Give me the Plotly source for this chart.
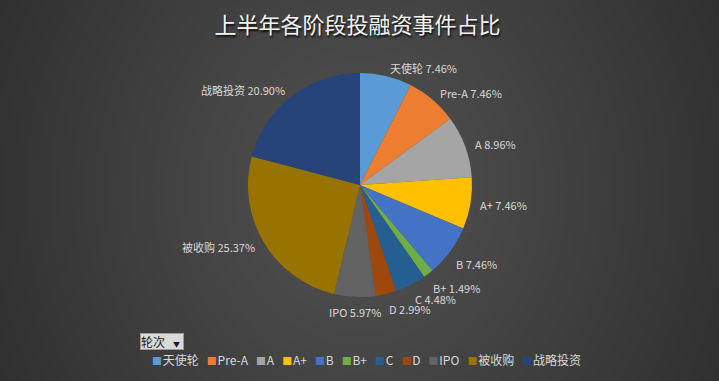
import math
import plotly.graph_objects as go

labels = ["天使轮", "Pre-A", "A", "A+", "B", "B+", "C", "D", "IPO", "被收购", "战略投资"]
counts = [5, 5, 6, 5, 5, 1, 3, 2, 4, 17, 14]
colors = ["#5B9BD5", "#ED7D31", "#A5A5A5", "#FFC000", "#4472C4", "#70AD47",
          "#255E91", "#9E480E", "#636363", "#997300", "#264478"]
title = "上半年各阶段投融资事件占比"
filter_label = "轮次"

W, H = 719, 381
cx, cy, r = 360, 185, 112
FONT = "Noto Sans CJK SC"

fig = go.Figure()
fig.add_trace(go.Pie(
    labels=labels, values=counts, sort=False, direction="clockwise", rotation=0,
    marker=dict(colors=colors, line=dict(color="rgba(0,0,0,0)", width=0)),
    textinfo="none",
    domain=dict(x=[(cx - r) / W, (cx + r) / W], y=[(H - cy - r) / H, (H - cy + r) / H]),
    hoverinfo="label+percent", showlegend=False,
))

# data labels placed just outside each slice's mid-angle
total = sum(counts)
annotations = []
cum = 0
for lab, v in zip(labels, counts):
    mid = (cum + v / 2) / total * 2 * math.pi
    cum += v
    s, c = math.sin(mid), math.cos(mid)
    xa = "left" if s > 0.15 else ("right" if s < -0.15 else "center")
    ya = "top" if c < -0.55 else "middle"
    gap = 5 if ya == "top" else 8
    px = cx + (r + gap) * s
    py = cy - (r + gap) * c
    annotations.append(dict(
        text=f"{lab} {v / total * 100:.2f}%", x=px / W, y=1 - py / H,
        xref="paper", yref="paper", xanchor=xa, yanchor=ya, showarrow=False,
        font=dict(color="#d9d9d9", size=11, family=FONT)))

# legend row built from the category arrays
legend_text = "   ".join(
    f"<span style='color:{col};font-size:10px'>■</span>\u200a{lab}"
    for lab, col in zip(labels, colors))
annotations.append(dict(text=legend_text, x=150 / W, y=1 - 359 / H, xref="paper", yref="paper",
                        xanchor="left", yanchor="middle", showarrow=False,
                        font=dict(color="#d9d9d9", size=12, family=FONT)))

# filter button
annotations.append(dict(text=filter_label + "   <span style='font-size:7px'>▼</span>",
                        x=140 / W, y=1 - 341.5 / H, xref="paper", yref="paper",
                        xanchor="left", yanchor="middle", showarrow=False, align="left",
                        width=42, height=15,
                        font=dict(color="#1a1a1a", size=12, family=FONT),
                        bgcolor="#d9d9d9", bordercolor="#9a9a9a", borderwidth=1, borderpad=0))

# radial background gradient approximation
shapes = []
n = 40
ax, ay = 460, 520
gx, gy = 360, 190
for i in range(n):
    f = 1 - i / n
    shapes.append(dict(type="circle", xref="paper", yref="paper",
                       x0=(gx - ax * f) / W, x1=(gx + ax * f) / W,
                       y0=1 - (gy + ay * f) / H, y1=1 - (gy - ay * f) / H,
                       fillcolor="rgba(255,255,255,0.0062)", line=dict(width=0), layer="below"))

fig.update_layout(
    width=W, height=H, margin=dict(l=0, r=0, t=0, b=0),
    paper_bgcolor="#2a2a2a", plot_bgcolor="rgba(0,0,0,0)",
    shapes=shapes, showlegend=False,
    title=dict(text=title, x=357.5 / W, xanchor="center", y=1 - 25 / H, yanchor="middle",
               font=dict(color="#f4f4f4", size=22, family=FONT,
                         shadow="1px 2px 2px rgba(0,0,0,0.8)")),
    annotations=annotations,
)

fig.write_html("out.html", config={"displayModeBar": False},
               post_script="document.body.style.margin='0';document.body.style.background='#2a2a2a';"
                           "document.body.style.overflow='hidden';")
